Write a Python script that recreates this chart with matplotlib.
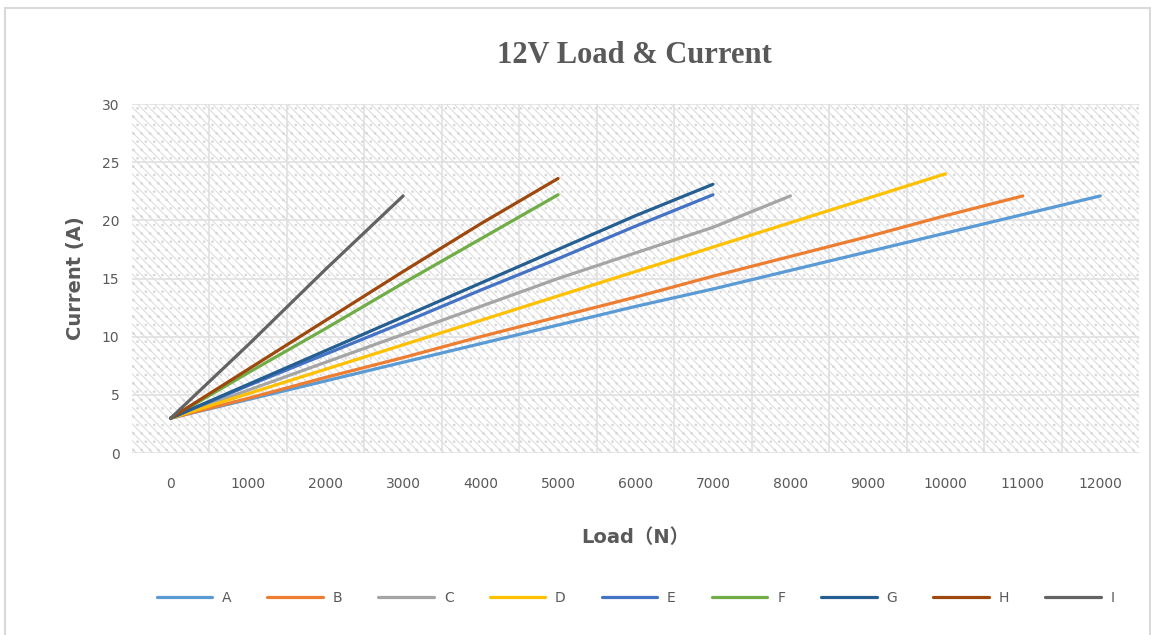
import matplotlib
matplotlib.use("Agg")
import matplotlib.pyplot as plt
from matplotlib.patches import Rectangle
import numpy as np

# Load categories (N)
loads = [0, 1000, 2000, 3000, 4000, 5000, 6000, 7000, 8000, 9000, 10000, 11000, 12000]

# Current (A) per load step for each model
A = [3, 4.6, 6.2, 7.8, 9.4, 11.0, 12.6, 14.1, 15.7, 17.3, 18.9, 20.5, 22.1]
B = [3, 4.7, 6.5, 8.2, 10.0, 11.7, 13.4, 15.2, 16.9, 18.6, 20.4, 22.1]
C = [3, 5.4, 7.8, 10.2, 12.6, 15.0, 17.2, 19.4, 22.1]
D = [3, 5.1, 7.2, 9.3, 11.4, 13.5, 15.6, 17.7, 19.8, 21.9, 24.0]
E = [3, 5.8, 8.5, 11.2, 14.0, 16.7, 19.5, 22.2]
F = [3, 6.9, 10.7, 14.6, 18.4, 22.2]
G = [3, 5.9, 8.8, 11.7, 14.6, 17.5, 20.4, 23.1]
H = [3, 7.2, 11.4, 15.6, 19.7, 23.6]
I = [3, 9.3, 15.8, 22.1]

series = [("A", A, "#5B9BD5"), ("B", B, "#ED7D31"), ("C", C, "#A5A5A5"),
          ("D", D, "#FFC000"), ("E", E, "#4472C4"), ("F", F, "#70AD47"),
          ("G", G, "#255E91"), ("H", H, "#9E480E"), ("I", I, "#636363")]

txt = "#595959"
plt.rcParams['hatch.linewidth'] = 0.7

fig = plt.figure(figsize=(11.51, 6.35), dpi=100)
ax = fig.add_axes([0.1147, 0.2866, 0.8749, 0.5496])

# chart area border
fig.patches.append(Rectangle((0.004, -0.01), 0.995, 0.998, transform=fig.transFigure,
                             fill=False, edgecolor="#d9d9d9", lw=1.5))

# hatched plot area
ax.add_patch(Rectangle((0, 0), 1, 1, transform=ax.transAxes, facecolor="white",
                       edgecolor="#d9d9d9", hatch="\\\\\\\\..", lw=0, zorder=0))

x = np.arange(len(loads))
for name, vals, col in series:
    ax.plot(x[:len(vals)], vals, color=col, lw=2.3, label=name, zorder=3,
            solid_capstyle="round")

ax.set_xlim(-0.5, len(loads) - 0.5)
ax.set_ylim(0, 30)
ax.set_yticks(range(0, 31, 5))
ax.set_xticks(x)
ax.set_xticklabels([str(v) for v in loads])
ax.set_xticks(x[:-1] + 0.5, minor=True)
ax.grid(which="minor", axis="x", color="#e0e0e0", lw=1.2, zorder=1)
ax.grid(which="major", axis="y", color="#e0e0e0", lw=1.2, zorder=1)
ax.set_axisbelow(True)
for s in ax.spines.values():
    s.set_visible(False)
ax.tick_params(which="both", length=0)
ax.tick_params(axis="x", pad=17, labelsize=10, labelcolor=txt)
ax.tick_params(axis="y", pad=9, labelsize=10, labelcolor=txt)

fig.text(0.551, 0.913, "12V Load & Current", ha="center", va="center",
         fontsize=22, fontweight="bold", color=txt, family="Liberation Serif")
ax.set_ylabel("Current (A)", fontsize=14, fontweight="bold", color=txt, labelpad=12)
ax.set_xlabel("Load（N）", fontsize=14, fontweight="bold", color=txt, labelpad=27,
              family=["DejaVu Sans", "Noto Sans CJK SC"])

ax.legend(loc="center", bbox_to_anchor=(0.5, -0.415), ncol=9, frameon=False,
          handlelength=4, handletextpad=0.7, columnspacing=2.6,
          fontsize=10, labelcolor=txt)

fig.savefig("out.png", dpi=100)
